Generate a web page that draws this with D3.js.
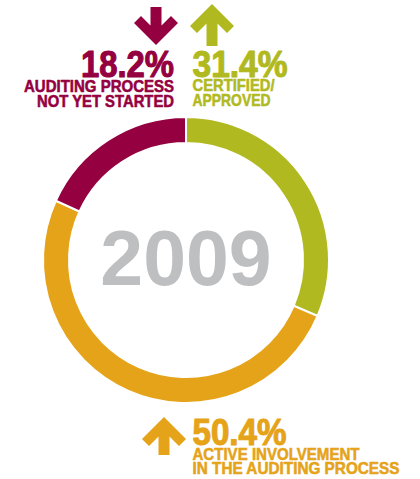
<!DOCTYPE html>
<html>
<head>
<meta charset="utf-8">
<script src="https://cdn.jsdelivr.net/npm/d3@7/dist/d3.min.js"></script>
<style>
  html, body { margin: 0; padding: 0; background: #fff; }
  svg { display: block; }
  text { font-family: "Liberation Sans", Arial, sans-serif; font-weight: bold; }
</style>
</head>
<body>
<svg id="chart" width="420" height="479"></svg>
<script>
// Shares of organisations by auditing status, 2009 (clockwise from 12 o'clock)
const categories = ["CERTIFIED/ APPROVED", "ACTIVE INVOLVEMENT IN THE AUDITING PROCESS", "AUDITING PROCESS NOT YET STARTED"];
const values = [31.4, 50.4, 18.2];
const trends = ["up", "up", "down"];
const labelLines = [["CERTIFIED/", "APPROVED"], ["ACTIVE INVOLVEMENT", "IN THE AUDITING PROCESS"], ["AUDITING PROCESS", "NOT YET STARTED"]];
const colors = ["#b1b920", "#e5a319", "#950040"];
const year = "2009";

const svg = d3.select("#chart");
const cx = 186, cy = 260, rOuter = 143, rInner = 117;

const color = d3.scaleOrdinal().domain(categories).range(colors);
const pie = d3.pie().sort(null).value(d => d.value).startAngle(0).endAngle(2 * Math.PI);
const arc = d3.arc().innerRadius(rInner).outerRadius(rOuter);

const data = categories.map((c, i) => ({ category: c, value: values[i], trend: trends[i], lines: labelLines[i] }));

const ring = svg.append("g").attr("transform", `translate(${cx},${cy})`);
ring.selectAll("path")
  .data(pie(data))
  .join("path")
  .attr("d", arc)
  .attr("fill", d => color(d.data.category))
  .attr("stroke", "#fff")
  .attr("stroke-width", 2);

ring.append("text")
  .attr("text-anchor", "middle")
  .attr("y", 25)
  .attr("font-size", 77)
  .attr("fill", "#bebfc1")
  .text(year);

// Chevron-style arrow; tipY is the point, dir "up" or "down"
function arrowPath(x, tipY, dir, len) {
  const s = dir === "up" ? 1 : -1;
  const pts = [[0, 0], [22, 22], [15, 29], [5.5, 19.5], [5.5, len], [-5.5, len], [-5.5, 19.5], [-15, 29], [-22, 22]];
  return "M" + pts.map(p => `${x + p[0]},${tipY + s * p[1]}`).join("L") + "Z";
}

const fmt = v => d3.format(".1f")(v) + "%";

// Label layout per category
const layout = [
  { anchor: "start", x: 192.5, base: 76.5, w: 95, lw: [82, 78], lb: [91, 105.5], arrow: { x: 212, tip: 4, len: 42 } },
  { anchor: "start", x: 192.5, base: 445, w: 94, lw: [167, 207], lb: [460, 474], arrow: { x: 164, tip: 417, len: 38 } },
  { anchor: "end", x: 174, base: 76.5, w: 93, lw: [150, 137], lb: [91.5, 107], arrow: { x: 156, tip: 45, len: 38 } }
];

const labels = svg.selectAll("g.label")
  .data(data)
  .join("g")
  .attr("class", "label")
  .attr("fill", d => color(d.category))
  .attr("stroke", d => color(d.category));

labels.append("path")
  .attr("d", (d, i) => arrowPath(layout[i].arrow.x, layout[i].arrow.tip, d.trend, layout[i].arrow.len))
  .attr("stroke", "none");

// One text block per label: value on top, description lines below, squeezed to a condensed look
labels.each(function (d, i) {
  const L = layout[i];
  const t = d3.select(this).append("text")
    .attr("text-anchor", L.anchor)
    .attr("stroke-linejoin", "round")
    .attr("lengthAdjust", "spacingAndGlyphs");
  t.append("tspan")
    .attr("x", L.x).attr("y", L.base)
    .attr("font-size", 36)
    .attr("stroke-width", 1.1)
    .attr("textLength", L.w)
    .attr("lengthAdjust", "spacingAndGlyphs")
    .text(fmt(d.value));
  d.lines.forEach((line, j) => {
    t.append("tspan")
      .attr("x", L.x).attr("y", L.lb[j])
      .attr("font-size", 16.5)
      .attr("stroke-width", 0.55)
      .attr("textLength", L.lw[j])
      .attr("lengthAdjust", "spacingAndGlyphs")
      .text(line);
  });
});
</script>
</body>
</html>
